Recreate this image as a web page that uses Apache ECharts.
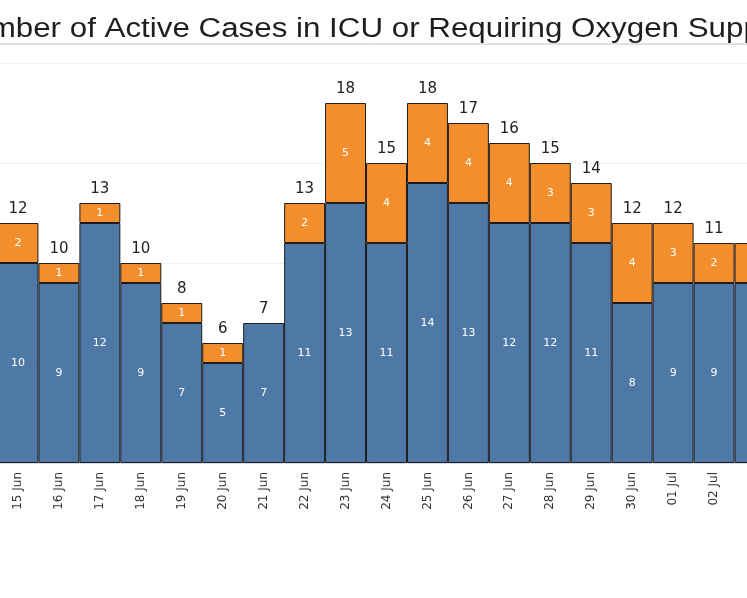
<!DOCTYPE html>
<html>
<head>
<meta charset="utf-8">
<script src="https://cdn.jsdelivr.net/npm/echarts@6/dist/echarts.min.js"></script>
<style>
  html, body { margin: 0; padding: 0; background: #fff; }
  #main { width: 747px; height: 598px; }
</style>
</head>
<body>
<div id="main"></div>
<script>
    var dates = ['15 Jun', '16 Jun', '17 Jun', '18 Jun', '19 Jun', '20 Jun', '21 Jun', '22 Jun', '23 Jun', '24 Jun',
        '25 Jun', '26 Jun', '27 Jun', '28 Jun', '29 Jun', '30 Jun', '01 Jul', '02 Jul', '03 Jul'];
    var blueCases = [10, 9, 12, 9, 7, 5, 7, 11, 13, 11, 14, 13, 12, 12, 11, 8, 9, 9, 9];
    var orangeCases = [2, 1, 1, 1, 1, 1, 0, 2, 5, 4, 4, 4, 4, 3, 3, 4, 3, 2, 2];
    var totals = [];
    for (var i = 0; i < dates.length; i++) {
        totals.push(blueCases[i] + orangeCases[i]);
    }

    var insideLabel = {
        show: true,
        position: 'inside',
        color: '#fff',
        fontFamily: 'DejaVu Sans',
        fontSize: 11
    };

    var option = {
        animation: false,
        graphic: [{
            // title is wider than the window in the original, so it runs off both sides
            type: 'text',
            x: 373.5,
            y: 29.5,
            scaleX: 1.16,
            style: {
                text: 'Number of Active Cases in ICU or Requiring Oxygen Support',
                x: 0,
                y: 0,
                align: 'center',
                verticalAlign: 'middle',
                font: '27px "Liberation Sans"',
                fill: '#1e1e1e'
            }
        }, {
            type: 'line',
            shape: { x1: 0, y1: 44, x2: 747, y2: 44 },
            style: { stroke: '#c4c4c4', lineWidth: 1 }
        }],
        grid: {
            left: -2.5,
            right: -28.5,
            top: 63,
            bottom: 135,
            containLabel: false,
            outerBoundsMode: 'none'
        },
        xAxis: {
            type: 'category',
            data: dates,
            axisLine: { lineStyle: { color: '#c9d5e6', width: 1.5 } },
            axisTick: { alignWithLabel: true, length: 4, lineStyle: { color: '#555' } },
            axisLabel: {
                rotate: 90,
                margin: 9,
                fontFamily: 'DejaVu Sans',
                fontSize: 12,
                color: '#333'
            }
        },
        yAxis: {
            type: 'value',
            min: 0,
            max: 20,
            interval: 5,
            axisLabel: { show: false },
            axisLine: { show: false },
            axisTick: { show: false },
            splitLine: { lineStyle: { color: '#efefef' } }
        },
        series: [{
            name: 'Blue',
            type: 'bar',
            stack: 'cases',
            barCategoryGap: 0,
            data: blueCases,
            itemStyle: { color: '#4e79a7', borderColor: '#1c1c1c', borderWidth: 1 },
            label: insideLabel
        }, {
            name: 'Orange',
            type: 'bar',
            stack: 'cases',
            data: orangeCases.map(function(v) { return v === 0 ? null : v; }),
            itemStyle: { color: '#f28e2b', borderColor: '#1c1c1c', borderWidth: 1 },
            label: insideLabel
        }, {
            name: 'Total',
            type: 'bar',
            stack: 'cases',
            data: totals.map(function() { return 0; }),
            itemStyle: { color: 'transparent', borderWidth: 0 },
            label: {
                show: true,
                position: 'top',
                distance: 6,
                fontFamily: 'DejaVu Sans',
                fontSize: 15,
                color: '#222',
                formatter: function(p) { return totals[p.dataIndex]; }
            }
        }]
    };

    var myChart = echarts.init(document.getElementById('main'));
    myChart.setOption(option);
</script>
</body>
</html>
